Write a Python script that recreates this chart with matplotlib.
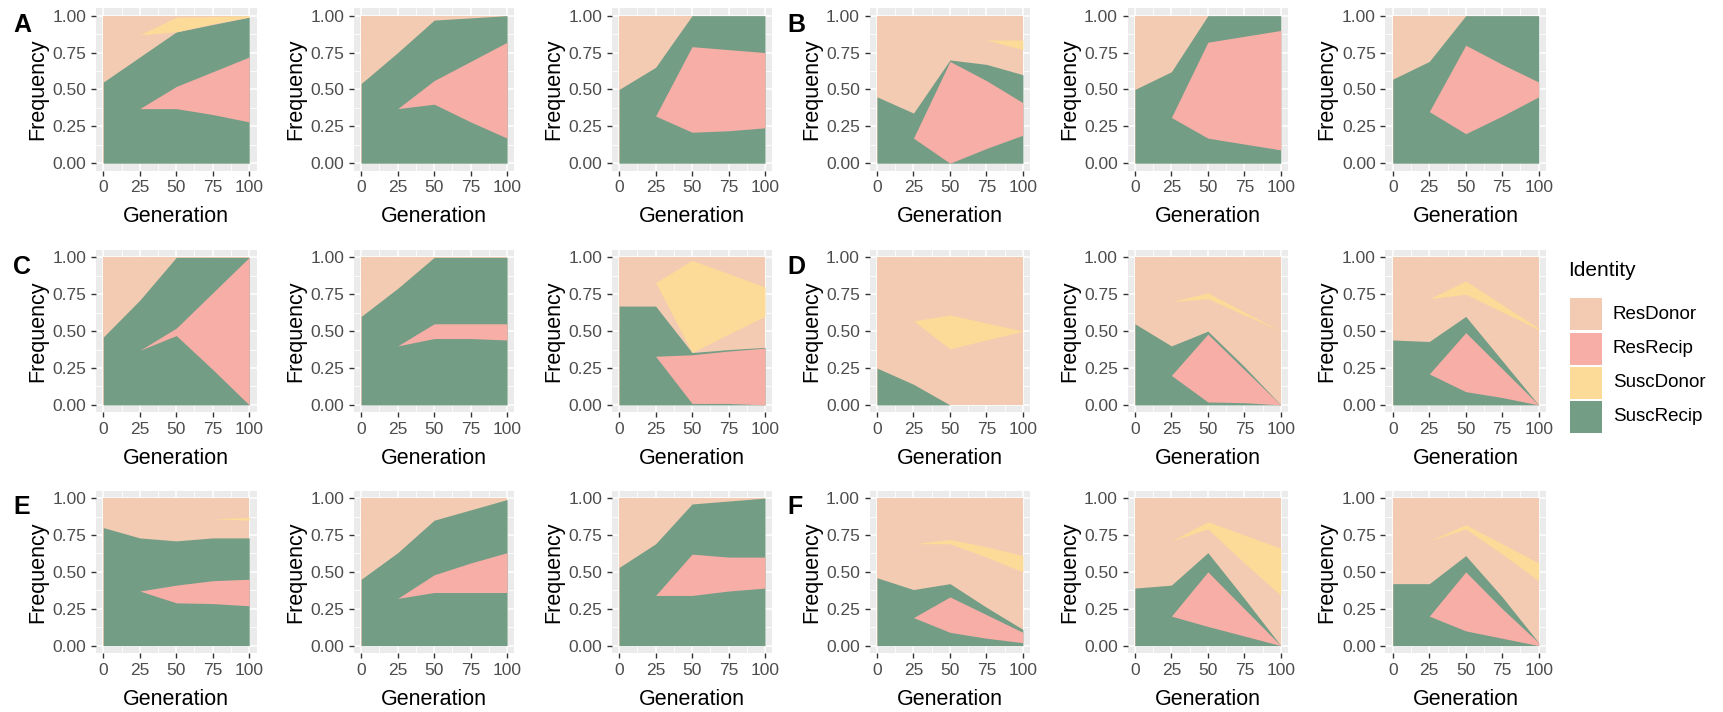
import numpy as np
import matplotlib
matplotlib.use('Agg')
import matplotlib.pyplot as plt
from matplotlib.patches import Rectangle
from matplotlib.ticker import FixedLocator

plt.rcParams['font.family'] = ['Liberation Sans', 'DejaVu Sans']

n = None

# Generations sampled in every panel.
generation = [0, 25, 50, 75, 100]

# Panel tags, read left to right, top to bottom.
panel_tags = ['A', '', '', 'B', '', '', 'C', '', '', 'D', '', '', 'E', '', '', 'F', '', '']

# Upper edge of the SuscRecip area (it starts at 0).
susc_recip_top = [
    [0.55, 0.72, 0.89, 0.94, 0.99],
    [0.54, 0.75, 0.97, 0.985, 1.0],
    [0.50, 0.65, 1.0, 1.0, 1.0],
    [0.45, 0.34, 0.70, 0.67, 0.60],
    [0.50, 0.62, 1.0, 1.0, 1.0],
    [0.57, 0.69, 1.0, 1.0, 1.0],
    [0.46, 0.71, 1.0, 1.0, 1.0],
    [0.60, 0.79, 1.0, 1.0, 1.0],
    [0.67, 0.67, 0.355, 0.375, 0.39],
    [0.25, 0.14, 0.0, 0.0, 0.0],
    [0.55, 0.40, 0.50, 0.26, 0.0],
    [0.44, 0.43, 0.60, 0.30, 0.0],
    [0.80, 0.73, 0.71, 0.73, 0.73],
    [0.45, 0.63, 0.85, 0.92, 0.99],
    [0.53, 0.69, 0.96, 0.98, 1.0],
    [0.46, 0.38, 0.42, 0.26, 0.11],
    [0.39, 0.41, 0.63, 0.32, 0.0],
    [0.42, 0.42, 0.61, 0.33, 0.02],
]

# ResRecip band, lower and upper edges.
res_recip_low = [
    [n, 0.37, 0.37, 0.33, 0.28],
    [n, 0.37, 0.40, 0.28, 0.17],
    [n, 0.32, 0.21, 0.22, 0.24],
    [n, 0.17, 0.0, 0.10, 0.19],
    [n, 0.31, 0.17, 0.13, 0.09],
    [n, 0.35, 0.20, 0.32, 0.45],
    [n, 0.37, 0.47, 0.24, 0.0],
    [n, 0.40, 0.45, 0.45, 0.44],
    [n, 0.33, 0.01, 0.01, 0.0],
    [n, n, n, n, n],
    [n, 0.20, 0.02, 0.015, 0.0],
    [n, 0.21, 0.09, 0.05, 0.0],
    [n, 0.37, 0.29, 0.285, 0.27],
    [n, 0.32, 0.36, 0.36, 0.36],
    [n, 0.34, 0.34, 0.37, 0.39],
    [n, 0.19, 0.09, 0.05, 0.02],
    [n, 0.20, 0.13, 0.065, 0.0],
    [n, 0.20, 0.10, 0.05, 0.0],
]
res_recip_high = [
    [n, 0.37, 0.52, 0.62, 0.72],
    [n, 0.37, 0.56, 0.69, 0.82],
    [n, 0.32, 0.79, 0.77, 0.75],
    [n, 0.17, 0.69, 0.56, 0.41],
    [n, 0.31, 0.82, 0.86, 0.90],
    [n, 0.35, 0.80, 0.67, 0.55],
    [n, 0.37, 0.52, 0.76, 1.0],
    [n, 0.40, 0.55, 0.55, 0.55],
    [n, 0.33, 0.34, 0.365, 0.385],
    [n, n, n, n, n],
    [n, 0.20, 0.48, 0.24, 0.0],
    [n, 0.21, 0.49, 0.245, 0.0],
    [n, 0.37, 0.41, 0.44, 0.45],
    [n, 0.32, 0.48, 0.56, 0.63],
    [n, 0.34, 0.62, 0.60, 0.60],
    [n, 0.19, 0.33, 0.21, 0.09],
    [n, 0.20, 0.50, 0.25, 0.0],
    [n, 0.20, 0.50, 0.25, 0.02],
]

# SuscDonor band, lower and upper edges.
susc_donor_low = [
    [n, 0.87, 0.89, 0.945, 0.99],
    [n] * 5,
    [n] * 5,
    [n, n, n, 0.835, 0.77],
    [n] * 5,
    [n] * 5,
    [n] * 5,
    [n] * 5,
    [n, 0.83, 0.355, 0.48, 0.60],
    [n, 0.57, 0.38, 0.44, 0.50],
    [n, 0.70, 0.72, 0.61, 0.50],
    [n, 0.72, 0.75, 0.63, 0.51],
    [n, n, n, 0.86, 0.85],
    [n] * 5,
    [n] * 5,
    [n, 0.69, 0.69, 0.60, 0.50],
    [n, 0.71, 0.79, 0.56, 0.34],
    [n, 0.71, 0.79, 0.62, 0.44],
]
susc_donor_high = [
    [n, 0.87, 0.99, 0.995, 1.0],
    [n] * 5,
    [n] * 5,
    [n, n, n, 0.835, 0.835],
    [n] * 5,
    [n] * 5,
    [n] * 5,
    [n] * 5,
    [n, 0.83, 0.98, 0.89, 0.80],
    [n, 0.57, 0.61, 0.555, 0.50],
    [n, 0.70, 0.76, 0.63, 0.50],
    [n, 0.72, 0.84, 0.68, 0.52],
    [n, n, n, 0.86, 0.87],
    [n] * 5,
    [n] * 5,
    [n, 0.69, 0.72, 0.67, 0.61],
    [n, 0.71, 0.84, 0.75, 0.66],
    [n, 0.71, 0.82, 0.69, 0.56],
]

identities = ['ResDonor', 'ResRecip', 'SuscDonor', 'SuscRecip']
colors = {'ResDonor': '#F3CBB2', 'ResRecip': '#F6AEA6',
          'SuscDonor': '#FCDA98', 'SuscRecip': '#749D86'}

W, H = 1724, 712
fig = plt.figure(figsize=(W / 100, H / 100), dpi=100)

# panel boxes in pixels
col_left = [96 + 257.9 * i for i in range(6)]
row_top = [8.3, 250.0, 490.7]
pw, ph = 160.5, 162.3

x = np.array(generation, dtype=float)
for k in range(18):
    r, c = divmod(k, 6)
    ax = fig.add_axes([col_left[c] / W, 1 - (row_top[r] + ph) / H, pw / W, ph / H])
    ax.set_facecolor('#EBEBEB')

    ax.fill_between(x, 0, 1, color=colors['ResDonor'], lw=0)
    ax.fill_between(x, 0, np.array(susc_recip_top[k], dtype=float),
                    color=colors['SuscRecip'], lw=0)
    ax.fill_between(x, np.array(susc_donor_low[k], dtype=float),
                    np.array(susc_donor_high[k], dtype=float),
                    color=colors['SuscDonor'], lw=0)
    ax.fill_between(x, np.array(res_recip_low[k], dtype=float),
                    np.array(res_recip_high[k], dtype=float),
                    color=colors['ResRecip'], lw=0)

    ax.set_xlim(-5, 105)
    ax.set_ylim(-0.05, 1.05)
    ax.set_xticks([0, 25, 50, 75, 100])
    ax.set_yticks([0, 0.25, 0.5, 0.75, 1.0])
    ax.set_yticklabels(['0.00', '0.25', '0.50', '0.75', '1.00'])
    ax.xaxis.set_minor_locator(FixedLocator([12.5, 37.5, 62.5, 87.5]))
    ax.yaxis.set_minor_locator(FixedLocator([0.125, 0.375, 0.625, 0.875]))
    ax.set_axisbelow(True)
    ax.grid(which='major', color='white', lw=1.1)
    ax.grid(which='minor', color='white', lw=0.55)
    for s in ax.spines.values():
        s.set_visible(False)
    ax.tick_params(which='major', length=3.5, width=1.0, color='#333333',
                   labelcolor='#4D4D4D', labelsize=12.5, pad=3.5)
    ax.tick_params(which='minor', length=0)
    ax.set_xlabel('Generation', fontsize=15.5, color='black', labelpad=8)
    ax.set_ylabel('Frequency', fontsize=15.5, color='black', labelpad=3)

    if panel_tags[k]:
        fig.text((col_left[c] - 82.7) / W, 1 - (row_top[r] + 4.5) / H, panel_tags[k],
                 fontsize=18, fontweight='bold', va='top', ha='left')

# Legend
fig.text(1568 / W, 1 - 271 / H, 'Identity', fontsize=15, va='center', ha='left')
for i, name in enumerate(identities):
    y0 = 298.3 + i * 34.2
    fig.add_artist(Rectangle((1570 / W, 1 - (y0 + 32) / H), 32 / W, 32 / H,
                             transform=fig.transFigure, color=colors[name], lw=0))
    fig.text(1613 / W, 1 - (y0 + 16) / H, name, fontsize=13.5, va='center', ha='left')

fig.savefig('out.png', dpi=100)
